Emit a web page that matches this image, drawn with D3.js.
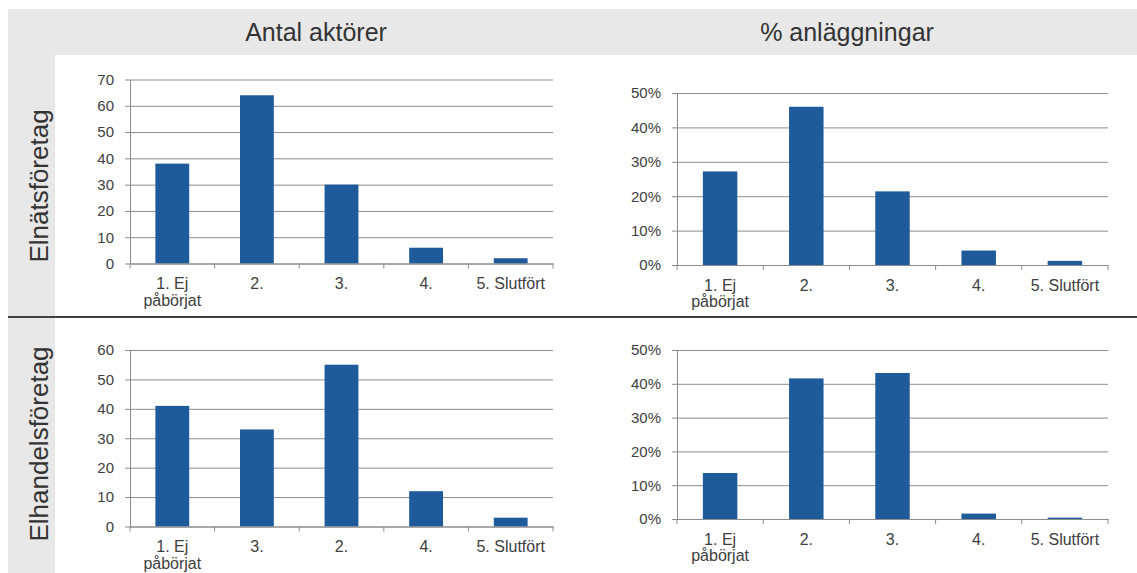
<!DOCTYPE html>
<html>
<head>
<meta charset="utf-8">
<script src="https://cdn.jsdelivr.net/npm/d3@7/dist/d3.min.js"></script>
<style>
  html, body { margin: 0; padding: 0; background: #fff; }
  svg { display: block; font-family: "Liberation Sans", Arial, sans-serif; }
</style>
</head>
<body>
<svg id="chart" width="1137" height="573"></svg>
<script>
// ---- data ----
const columnTitles = ["Antal aktörer", "% anläggningar"];
const rowTitles = ["Elnätsföretag", "Elhandelsföretag"];

const catsElnat = ["1. Ej\npåbörjat", "2.", "3.", "4.", "5. Slutfört"];
const catsElhandelCount = ["1. Ej\npåbörjat", "3.", "2.", "4.", "5. Slutfört"];
const catsElhandelShare = ["1. Ej\npåbörjat", "2.", "3.", "4.", "5. Slutfört"];

const elnatActors = [38, 64, 30, 6, 2];
const elnatShare = [0.272, 0.46, 0.214, 0.042, 0.012];
const elhandelActors = [41, 33, 55, 12, 3];
const elhandelShare = [0.136, 0.416, 0.432, 0.016, 0.004];

const ticksElnatCount = [0, 10, 20, 30, 40, 50, 60, 70];
const ticksElhandelCount = [0, 10, 20, 30, 40, 50, 60];
const ticksShare = [0, 0.1, 0.2, 0.3, 0.4, 0.5];

// ---- style ----
const BAR = "#1f5a9a";
const GRID = "#8c8c8c";
const TEXT = "#404040";
const PANEL_BG = "#e8e8e8";

const svg = d3.select("#chart");

// background header and row label column
svg.append("rect").attr("x", 8).attr("y", 9).attr("width", 1129).attr("height", 46).attr("fill", PANEL_BG);
svg.append("rect").attr("x", 8).attr("y", 9).attr("width", 47).attr("height", 564).attr("fill", PANEL_BG);

// column titles
[[316, columnTitles[0]], [847, columnTitles[1]]].forEach(([cx, t]) => {
  svg.append("text").attr("x", cx).attr("y", 41).attr("text-anchor", "middle")
    .attr("font-size", 25).attr("fill", "#333").text(t);
});
// row titles (rotated)
[[186, rowTitles[0]], [444, rowTitles[1]]].forEach(([cy, t]) => {
  svg.append("text").attr("transform", `translate(48,${cy}) rotate(-90)`)
    .attr("text-anchor", "middle").attr("font-size", 26).attr("fill", "#333").text(t);
});

// divider
svg.append("line").attr("x1", 8).attr("x2", 1137).attr("y1", 317).attr("y2", 317)
  .attr("stroke", "#404040").attr("stroke-width", 2);

function panel(opt) {
  const { x0, x1, yTop, yBottom, cats, values, ticks, fmt } = opt;
  const w = x1 - x0;
  const x = d3.scaleBand().domain(cats).range([x0, x1]).paddingInner(0.6).paddingOuter(0.3);
  const y = d3.scaleLinear().domain([0, ticks[ticks.length - 1]]).range([yBottom, yTop]);
  const g = svg.append("g");

  // y axis with gridlines
  const ya = g.append("g").attr("transform", `translate(${x0},0)`)
    .call(d3.axisLeft(y).tickValues(ticks).tickFormat(fmt).tickSizeInner(-w).tickSizeOuter(0).tickPadding(16));
  ya.select(".domain").attr("stroke", GRID);
  ya.selectAll(".tick line").attr("x1", -5).attr("x2", w).attr("stroke", GRID);
  ya.selectAll(".tick text").attr("font-size", 15).attr("fill", TEXT)
    .attr("font-family", "Liberation Sans, Arial, sans-serif");

  // bars
  g.selectAll("rect.bar").data(values).enter().append("rect")
    .attr("class", "bar")
    .attr("x", (d, i) => x(cats[i]))
    .attr("width", x.bandwidth())
    .attr("y", d => y(d))
    .attr("height", d => y(0) - y(d))
    .attr("fill", BAR);

  // x axis
  const xa = g.append("g").attr("transform", `translate(0,${yBottom})`)
    .call(d3.axisBottom(x).tickSize(0).tickFormat(""));
  xa.select(".domain").attr("stroke", GRID);
  const step = x.step();
  const bounds = d3.range(cats.length + 1).map(i => x0 + i * step);
  xa.selectAll("line.bt").data(bounds).enter().append("line")
    .attr("class", "bt").attr("x1", d => d).attr("x2", d => d).attr("y1", 0).attr("y2", 5)
    .attr("stroke", GRID);

  // category labels
  const lab = g.selectAll("text.cat").data(cats).enter().append("text")
    .attr("class", "cat")
    .attr("text-anchor", "middle")
    .attr("font-size", 16)
    .attr("fill", TEXT)
    .attr("transform", d => `translate(${x(d) + x.bandwidth() / 2},${yBottom + 25.5})`);
  lab.each(function (d) {
    const lines = d.split("\n");
    d3.select(this).selectAll("tspan").data(lines).enter().append("tspan")
      .attr("x", 0).attr("dy", (l, i) => i === 0 ? 0 : 16.5).text(l => l);
  });
}

const fmtCount = d3.format("d");
const fmtPct = d => Math.round(d * 100) + "%";

panel({ x0: 130, x1: 553, yTop: 79.5, yBottom: 263.5, cats: catsElnat, values: elnatActors, ticks: ticksElnatCount, fmt: fmtCount });
panel({ x0: 677, x1: 1108, yTop: 93, yBottom: 265, cats: catsElnat, values: elnatShare, ticks: ticksShare, fmt: fmtPct });
panel({ x0: 130, x1: 553, yTop: 350, yBottom: 526.5, cats: catsElhandelCount, values: elhandelActors, ticks: ticksElhandelCount, fmt: fmtCount });
panel({ x0: 677, x1: 1108, yTop: 350, yBottom: 519, cats: catsElhandelShare, values: elhandelShare, ticks: ticksShare, fmt: fmtPct });
</script>
</body>
</html>
